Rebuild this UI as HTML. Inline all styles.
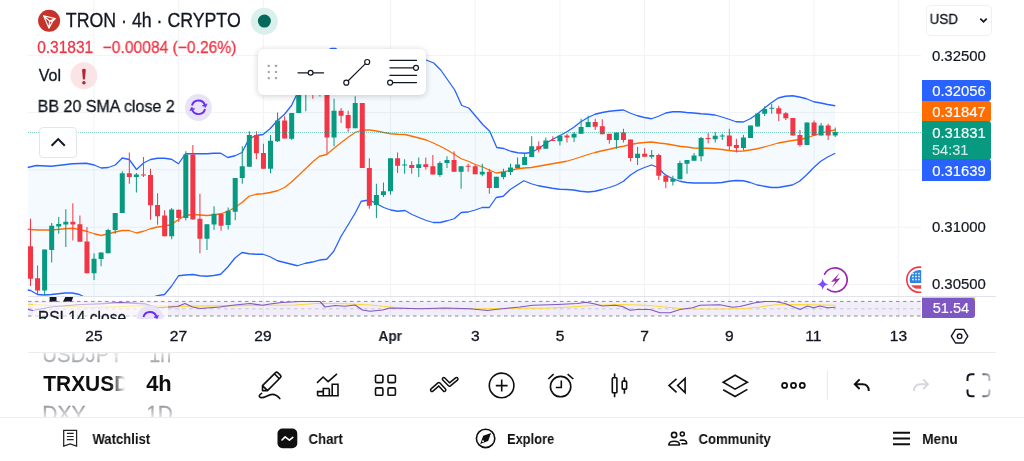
<!DOCTYPE html><html><head><meta charset="utf-8"><title>TRON chart</title><style>
*{box-sizing:border-box;margin:0;padding:0}
html,body{width:1024px;height:461px;overflow:hidden;background:#fff}
body{position:relative;font-family:"Liberation Sans",sans-serif;color:#131722;-webkit-font-smoothing:antialiased}
#cv{position:absolute;left:0;top:0}
.t{position:absolute;white-space:nowrap;line-height:1}
.ab{position:absolute}
.tx text{font-family:"Liberation Sans",sans-serif;white-space:pre}
.tx{opacity:.999;will-change:transform}
</style></head><body>
<svg id="cv" width="1024" height="461" viewBox="0 0 1024 461">
<defs><clipPath id="cm"><rect x="27.5" y="0" width="893.7" height="296"/></clipPath><clipPath id="cr"><rect x="28" y="297" width="893" height="21.5"/></clipPath></defs>
<path d="M94.0 0V318M178.7 0V318M263.4 0V318M390.5 0V318M475.2 0V318M559.9 0V318M644.6 0V318M729.3 0V318M814.0 0V318M898.7 0V318M28 55.4H921M28 112.6H921M28 169.9H921M28 227.2H921M28 284.5H921" stroke="#f1f3f5" stroke-width="1" fill="none"/>
<g clip-path="url(#cm)">
<polygon points="27.50,167.50 36.25,165.50 51.25,166.25 72.50,163.75 86.25,163.25 94.25,165.00 101.25,168.00 108.25,167.50 115.25,165.00 122.25,158.00 129.25,159.50 136.50,169.50 143.50,163.00 150.50,159.50 157.50,158.25 164.50,158.25 171.50,159.25 178.50,163.75 185.50,153.75 192.75,153.75 199.75,153.75 206.75,153.75 213.75,153.25 220.75,153.25 227.75,157.50 235.00,155.75 242.00,152.50 249.00,138.75 256.00,135.50 263.00,134.50 270.00,128.75 277.50,120.50 284.50,114.25 291.50,105.50 296.25,95.50 303.00,84.00 310.00,73.00 317.00,63.00 324.00,54.00 329.00,49.60 331.50,48.40 335.30,48.40 338.00,50.00 345.00,52.00 370.00,52.00 400.00,54.00 420.00,58.00 426.25,60.00 433.75,63.00 440.75,70.00 447.75,80.00 454.75,90.00 461.75,105.50 468.75,108.00 475.75,116.25 482.75,124.50 489.75,131.25 496.75,147.50 503.75,148.50 510.75,151.25 517.75,152.75 525.00,153.25 531.25,152.50 538.25,148.75 545.25,143.75 552.25,139.50 559.50,135.75 566.50,132.00 573.50,127.50 580.50,122.00 588.00,117.50 595.00,114.25 602.25,112.50 609.25,111.25 616.50,110.50 623.50,110.00 630.50,113.25 637.50,115.75 644.50,117.50 651.50,118.75 658.50,116.25 665.75,113.00 672.75,111.75 679.75,111.75 686.75,112.50 693.75,113.00 701.00,113.75 708.00,114.25 715.00,115.00 722.00,117.00 729.00,119.25 736.00,121.75 743.25,122.00 750.25,118.75 757.25,114.00 764.25,108.25 771.25,102.75 778.25,98.00 785.25,96.25 792.50,95.75 799.50,97.00 806.50,98.75 813.75,101.75 820.75,103.00 827.75,104.50 835.25,105.75 835.25,153.25 827.75,157.00 820.75,161.25 813.75,167.50 806.50,175.00 799.50,181.25 792.50,185.00 785.25,186.25 778.25,187.50 771.25,187.50 764.25,186.25 757.25,185.00 750.25,182.50 743.25,180.75 736.00,180.50 729.00,181.25 722.00,182.50 715.00,183.00 708.00,183.00 701.00,183.00 693.75,183.00 686.75,182.50 679.75,181.25 672.75,178.75 665.75,175.00 662.50,172.50 658.50,167.50 651.50,165.00 644.50,167.50 637.50,170.50 630.50,175.00 623.50,181.25 616.50,185.00 609.25,187.50 602.25,189.50 595.00,191.25 588.00,192.00 580.50,191.25 573.50,190.00 566.50,189.50 559.50,189.25 552.25,188.25 545.25,187.00 538.25,185.75 531.25,183.75 523.75,180.75 517.25,185.00 510.25,189.50 503.25,196.25 496.25,197.50 489.25,207.50 482.25,207.50 475.25,210.00 468.25,212.00 461.25,212.50 454.25,218.75 447.25,220.75 440.25,222.50 433.25,222.50 426.25,220.50 419.00,217.50 412.00,214.50 405.00,210.50 397.75,211.25 390.75,210.00 383.75,207.50 376.50,203.75 369.50,200.00 361.25,201.25 355.50,212.50 348.50,224.25 341.25,236.00 333.75,251.25 326.75,259.25 319.50,260.00 312.50,262.00 305.50,263.25 297.50,265.75 291.50,264.25 284.50,262.50 277.50,260.75 270.00,256.75 263.00,254.25 256.00,254.25 249.00,253.75 242.00,252.50 235.00,258.00 227.75,267.00 220.75,274.25 213.75,275.50 206.75,276.25 199.75,275.75 192.75,274.50 185.50,275.00 178.50,275.75 171.50,286.25 164.50,294.50 156.25,296.00 150.00,298.00 120.00,302.00 90.00,299.00 82.50,296.00 79.50,294.50 72.50,293.00 65.25,293.00 58.25,293.75 51.25,294.50 44.50,295.00 37.50,294.50 30.50,290.50 27.50,290.00" fill="#2196f3" fill-opacity="0.05"/>
<polyline points="27.50,229.25 37.50,230.00 51.25,230.00 65.25,228.75 72.50,228.25 79.50,229.50 86.50,231.25 94.25,233.75 101.25,235.50 108.25,233.75 115.25,232.00 122.25,230.50 129.25,230.50 136.50,233.00 143.50,231.25 150.50,228.75 157.50,227.00 164.50,226.25 171.50,224.50 178.50,219.50 185.50,215.50 192.75,214.50 199.75,215.00 206.75,215.50 213.75,215.00 220.75,213.75 227.75,211.25 235.00,207.50 242.00,202.50 249.00,196.25 256.00,194.25 263.00,193.75 270.00,192.50 277.50,190.75 284.50,187.50 291.50,182.00 298.50,175.50 305.50,168.75 312.50,162.00 319.50,156.25 326.75,154.50 333.75,148.50 341.25,142.50 348.50,137.00 355.50,132.25 362.50,130.00 369.50,130.00 376.50,131.00 383.75,132.50 390.75,133.75 397.75,134.25 405.00,134.50 412.00,136.25 419.00,138.00 426.25,140.00 433.25,143.00 440.25,146.25 447.25,150.00 454.25,154.25 461.25,158.75 468.25,161.25 475.25,164.50 482.25,166.75 489.25,170.00 496.25,173.00 503.25,172.00 510.25,170.50 517.25,168.75 524.25,168.00 531.25,167.50 538.25,166.25 545.25,165.00 552.25,163.75 559.50,162.50 566.50,161.25 573.50,159.25 580.50,157.00 588.00,154.50 595.00,152.50 602.25,150.75 609.25,149.25 616.50,147.50 623.50,146.25 630.50,144.50 637.50,143.25 644.50,142.50 651.50,142.00 658.50,143.00 665.75,143.75 672.75,145.00 679.75,146.25 686.75,147.00 693.75,148.00 701.00,148.25 708.00,148.25 715.00,148.75 722.00,149.50 729.00,150.50 736.00,151.25 743.25,151.00 750.00,150.00 757.00,148.75 764.25,147.00 771.25,145.00 778.25,143.00 785.25,141.75 792.50,140.50 799.50,139.50 806.50,138.00 813.75,135.50 820.75,133.25 827.75,131.25 835.25,130.00" fill="none" stroke="#ff6d00" stroke-width="1.3" stroke-linejoin="round"/>
<polyline points="27.50,167.50 36.25,165.50 51.25,166.25 72.50,163.75 86.25,163.25 94.25,165.00 101.25,168.00 108.25,167.50 115.25,165.00 122.25,158.00 129.25,159.50 136.50,169.50 143.50,163.00 150.50,159.50 157.50,158.25 164.50,158.25 171.50,159.25 178.50,163.75 185.50,153.75 192.75,153.75 199.75,153.75 206.75,153.75 213.75,153.25 220.75,153.25 227.75,157.50 235.00,155.75 242.00,152.50 249.00,138.75 256.00,135.50 263.00,134.50 270.00,128.75 277.50,120.50 284.50,114.25 291.50,105.50 296.25,95.50 303.00,84.00 310.00,73.00 317.00,63.00 324.00,54.00 329.00,49.60 331.50,48.40 335.30,48.40 338.00,50.00 345.00,52.00 370.00,52.00 400.00,54.00 420.00,58.00 426.25,60.00 433.75,63.00 440.75,70.00 447.75,80.00 454.75,90.00 461.75,105.50 468.75,108.00 475.75,116.25 482.75,124.50 489.75,131.25 496.75,147.50 503.75,148.50 510.75,151.25 517.75,152.75 525.00,153.25 531.25,152.50 538.25,148.75 545.25,143.75 552.25,139.50 559.50,135.75 566.50,132.00 573.50,127.50 580.50,122.00 588.00,117.50 595.00,114.25 602.25,112.50 609.25,111.25 616.50,110.50 623.50,110.00 630.50,113.25 637.50,115.75 644.50,117.50 651.50,118.75 658.50,116.25 665.75,113.00 672.75,111.75 679.75,111.75 686.75,112.50 693.75,113.00 701.00,113.75 708.00,114.25 715.00,115.00 722.00,117.00 729.00,119.25 736.00,121.75 743.25,122.00 750.25,118.75 757.25,114.00 764.25,108.25 771.25,102.75 778.25,98.00 785.25,96.25 792.50,95.75 799.50,97.00 806.50,98.75 813.75,101.75 820.75,103.00 827.75,104.50 835.25,105.75" fill="none" stroke="#2962ff" stroke-width="1.3" stroke-linejoin="round"/>
<polyline points="27.50,290.00 30.50,290.50 37.50,294.50 44.50,295.00 51.25,294.50 58.25,293.75 65.25,293.00 72.50,293.00 79.50,294.50 82.50,296.00 90.00,299.00 120.00,302.00 150.00,298.00 156.25,296.00 164.50,294.50 171.50,286.25 178.50,275.75 185.50,275.00 192.75,274.50 199.75,275.75 206.75,276.25 213.75,275.50 220.75,274.25 227.75,267.00 235.00,258.00 242.00,252.50 249.00,253.75 256.00,254.25 263.00,254.25 270.00,256.75 277.50,260.75 284.50,262.50 291.50,264.25 297.50,265.75 305.50,263.25 312.50,262.00 319.50,260.00 326.75,259.25 333.75,251.25 341.25,236.00 348.50,224.25 355.50,212.50 361.25,201.25 369.50,200.00 376.50,203.75 383.75,207.50 390.75,210.00 397.75,211.25 405.00,210.50 412.00,214.50 419.00,217.50 426.25,220.50 433.25,222.50 440.25,222.50 447.25,220.75 454.25,218.75 461.25,212.50 468.25,212.00 475.25,210.00 482.25,207.50 489.25,207.50 496.25,197.50 503.25,196.25 510.25,189.50 517.25,185.00 523.75,180.75 531.25,183.75 538.25,185.75 545.25,187.00 552.25,188.25 559.50,189.25 566.50,189.50 573.50,190.00 580.50,191.25 588.00,192.00 595.00,191.25 602.25,189.50 609.25,187.50 616.50,185.00 623.50,181.25 630.50,175.00 637.50,170.50 644.50,167.50 651.50,165.00 658.50,167.50 662.50,172.50 665.75,175.00 672.75,178.75 679.75,181.25 686.75,182.50 693.75,183.00 701.00,183.00 708.00,183.00 715.00,183.00 722.00,182.50 729.00,181.25 736.00,180.50 743.25,180.75 750.25,182.50 757.25,185.00 764.25,186.25 771.25,187.50 778.25,187.50 785.25,186.25 792.50,185.00 799.50,181.25 806.50,175.00 813.75,167.50 820.75,161.25 827.75,157.00 835.25,153.25" fill="none" stroke="#2962ff" stroke-width="1.3" stroke-linejoin="round"/>
<rect x="30.00" y="218.75" width="1" height="67.25" fill="#f23645"/>
<rect x="28.00" y="246.25" width="5" height="32.50" fill="#f23645"/>
<rect x="37.06" y="265.50" width="1" height="29.50" fill="#f23645"/>
<rect x="35.06" y="278.25" width="5" height="12.25" fill="#f23645"/>
<rect x="44.12" y="249.50" width="1" height="45.50" fill="#089981"/>
<rect x="42.12" y="249.50" width="5" height="41.00" fill="#089981"/>
<rect x="51.18" y="223.00" width="1" height="39.50" fill="#089981"/>
<rect x="49.18" y="225.75" width="5" height="24.25" fill="#089981"/>
<rect x="58.24" y="217.00" width="1" height="16.75" fill="#089981"/>
<rect x="56.24" y="224.00" width="5" height="2.50" fill="#089981"/>
<rect x="65.30" y="209.25" width="1" height="37.75" fill="#089981"/>
<rect x="63.30" y="221.75" width="5" height="2.75" fill="#089981"/>
<rect x="72.35" y="203.25" width="1" height="37.25" fill="#f23645"/>
<rect x="70.35" y="221.75" width="5" height="2.75" fill="#f23645"/>
<rect x="79.41" y="215.50" width="1" height="26.25" fill="#f23645"/>
<rect x="77.41" y="224.25" width="5" height="17.50" fill="#f23645"/>
<rect x="86.47" y="227.00" width="1" height="46.25" fill="#f23645"/>
<rect x="84.47" y="241.50" width="5" height="31.75" fill="#f23645"/>
<rect x="93.53" y="253.25" width="1" height="26.75" fill="#089981"/>
<rect x="91.53" y="258.75" width="5" height="14.50" fill="#089981"/>
<rect x="100.59" y="252.50" width="1" height="13.75" fill="#089981"/>
<rect x="98.59" y="252.50" width="5" height="6.50" fill="#089981"/>
<rect x="107.65" y="228.75" width="1" height="24.50" fill="#089981"/>
<rect x="105.65" y="230.00" width="5" height="23.25" fill="#089981"/>
<rect x="114.71" y="213.00" width="1" height="20.75" fill="#089981"/>
<rect x="112.71" y="213.00" width="5" height="17.00" fill="#089981"/>
<rect x="121.77" y="171.25" width="1" height="41.75" fill="#089981"/>
<rect x="119.77" y="173.25" width="5" height="39.75" fill="#089981"/>
<rect x="128.83" y="152.50" width="1" height="31.25" fill="#f23645"/>
<rect x="126.83" y="173.25" width="5" height="3.75" fill="#f23645"/>
<rect x="135.88" y="173.00" width="1" height="19.50" fill="#089981"/>
<rect x="133.88" y="174.50" width="5" height="2.50" fill="#089981"/>
<rect x="142.94" y="157.00" width="1" height="20.00" fill="#f23645"/>
<rect x="140.94" y="174.50" width="5" height="1.00" fill="#f23645"/>
<rect x="150.00" y="168.75" width="1" height="51.00" fill="#f23645"/>
<rect x="148.00" y="175.00" width="5" height="30.25" fill="#f23645"/>
<rect x="157.06" y="193.25" width="1" height="31.50" fill="#f23645"/>
<rect x="155.06" y="205.00" width="5" height="11.25" fill="#f23645"/>
<rect x="164.12" y="210.25" width="1" height="26.00" fill="#f23645"/>
<rect x="162.12" y="215.50" width="5" height="20.75" fill="#f23645"/>
<rect x="171.18" y="208.00" width="1" height="31.25" fill="#089981"/>
<rect x="169.18" y="209.50" width="5" height="26.75" fill="#089981"/>
<rect x="178.24" y="209.50" width="1" height="12.50" fill="#f23645"/>
<rect x="176.24" y="209.75" width="5" height="8.25" fill="#f23645"/>
<rect x="185.30" y="151.25" width="1" height="69.25" fill="#089981"/>
<rect x="183.30" y="154.50" width="5" height="63.50" fill="#089981"/>
<rect x="192.36" y="145.00" width="1" height="74.50" fill="#f23645"/>
<rect x="190.36" y="154.50" width="5" height="65.00" fill="#f23645"/>
<rect x="199.42" y="193.75" width="1" height="59.50" fill="#f23645"/>
<rect x="197.42" y="218.75" width="5" height="20.00" fill="#f23645"/>
<rect x="206.47" y="224.25" width="1" height="25.75" fill="#089981"/>
<rect x="204.47" y="224.25" width="5" height="14.50" fill="#089981"/>
<rect x="213.53" y="206.25" width="1" height="23.75" fill="#089981"/>
<rect x="211.53" y="213.75" width="5" height="10.75" fill="#089981"/>
<rect x="220.59" y="213.75" width="1" height="17.00" fill="#f23645"/>
<rect x="218.59" y="213.75" width="5" height="12.00" fill="#f23645"/>
<rect x="227.65" y="207.50" width="1" height="22.00" fill="#089981"/>
<rect x="225.65" y="210.75" width="5" height="14.25" fill="#089981"/>
<rect x="234.71" y="178.00" width="1" height="42.25" fill="#089981"/>
<rect x="232.71" y="178.00" width="5" height="33.75" fill="#089981"/>
<rect x="241.77" y="146.25" width="1" height="37.50" fill="#089981"/>
<rect x="239.77" y="166.25" width="5" height="11.75" fill="#089981"/>
<rect x="248.83" y="131.25" width="1" height="35.50" fill="#089981"/>
<rect x="246.83" y="135.00" width="5" height="31.75" fill="#089981"/>
<rect x="255.89" y="131.25" width="1" height="28.00" fill="#f23645"/>
<rect x="253.89" y="135.00" width="5" height="18.25" fill="#f23645"/>
<rect x="262.95" y="143.75" width="1" height="25.00" fill="#f23645"/>
<rect x="260.95" y="153.00" width="5" height="15.75" fill="#f23645"/>
<rect x="270.01" y="135.00" width="1" height="38.25" fill="#089981"/>
<rect x="268.01" y="140.75" width="5" height="28.00" fill="#089981"/>
<rect x="277.06" y="112.50" width="1" height="29.50" fill="#089981"/>
<rect x="275.06" y="120.50" width="5" height="20.75" fill="#089981"/>
<rect x="284.12" y="116.25" width="1" height="22.25" fill="#f23645"/>
<rect x="282.12" y="120.50" width="5" height="18.00" fill="#f23645"/>
<rect x="291.18" y="113.00" width="1" height="27.00" fill="#089981"/>
<rect x="289.18" y="113.00" width="5" height="25.75" fill="#089981"/>
<rect x="298.24" y="78.00" width="1" height="35.00" fill="#089981"/>
<rect x="296.24" y="80.00" width="5" height="33.00" fill="#089981"/>
<rect x="305.30" y="70.00" width="1" height="41.25" fill="#089981"/>
<rect x="303.30" y="72.00" width="5" height="8.00" fill="#089981"/>
<rect x="312.36" y="68.00" width="1" height="30.75" fill="#f23645"/>
<rect x="310.36" y="72.00" width="5" height="6.00" fill="#f23645"/>
<rect x="319.42" y="70.00" width="1" height="26.50" fill="#089981"/>
<rect x="317.42" y="74.00" width="5" height="4.00" fill="#089981"/>
<rect x="326.48" y="70.00" width="1" height="83.75" fill="#f23645"/>
<rect x="324.48" y="74.00" width="5" height="63.50" fill="#f23645"/>
<rect x="333.54" y="98.75" width="1" height="47.50" fill="#089981"/>
<rect x="331.54" y="110.75" width="5" height="26.75" fill="#089981"/>
<rect x="340.60" y="108.00" width="1" height="15.00" fill="#f23645"/>
<rect x="338.60" y="110.75" width="5" height="5.00" fill="#f23645"/>
<rect x="347.66" y="110.75" width="1" height="21.00" fill="#f23645"/>
<rect x="345.66" y="115.00" width="5" height="13.25" fill="#f23645"/>
<rect x="354.71" y="96.25" width="1" height="32.00" fill="#089981"/>
<rect x="352.71" y="103.00" width="5" height="25.25" fill="#089981"/>
<rect x="361.77" y="103.00" width="1" height="65.00" fill="#f23645"/>
<rect x="359.77" y="103.00" width="5" height="65.00" fill="#f23645"/>
<rect x="368.83" y="158.25" width="1" height="50.50" fill="#f23645"/>
<rect x="366.83" y="168.00" width="5" height="37.75" fill="#f23645"/>
<rect x="375.89" y="183.75" width="1" height="34.25" fill="#089981"/>
<rect x="373.89" y="195.00" width="5" height="10.00" fill="#089981"/>
<rect x="382.95" y="182.50" width="1" height="14.50" fill="#089981"/>
<rect x="380.95" y="191.25" width="5" height="3.75" fill="#089981"/>
<rect x="390.01" y="158.25" width="1" height="36.25" fill="#089981"/>
<rect x="388.01" y="158.25" width="5" height="33.00" fill="#089981"/>
<rect x="397.07" y="152.50" width="1" height="20.50" fill="#f23645"/>
<rect x="395.07" y="158.25" width="5" height="7.50" fill="#f23645"/>
<rect x="404.13" y="159.25" width="1" height="14.50" fill="#089981"/>
<rect x="402.13" y="164.50" width="5" height="1.00" fill="#089981"/>
<rect x="411.19" y="161.25" width="1" height="12.50" fill="#f23645"/>
<rect x="409.19" y="165.00" width="5" height="3.00" fill="#f23645"/>
<rect x="418.25" y="157.50" width="1" height="19.50" fill="#089981"/>
<rect x="416.25" y="164.25" width="5" height="3.75" fill="#089981"/>
<rect x="425.30" y="157.50" width="1" height="12.00" fill="#f23645"/>
<rect x="423.30" y="164.25" width="5" height="2.75" fill="#f23645"/>
<rect x="432.36" y="155.00" width="1" height="19.50" fill="#f23645"/>
<rect x="430.36" y="166.25" width="5" height="8.25" fill="#f23645"/>
<rect x="439.42" y="161.25" width="1" height="15.50" fill="#089981"/>
<rect x="437.42" y="163.00" width="5" height="12.00" fill="#089981"/>
<rect x="446.48" y="156.25" width="1" height="11.75" fill="#089981"/>
<rect x="444.48" y="160.00" width="5" height="3.00" fill="#089981"/>
<rect x="453.54" y="151.25" width="1" height="20.50" fill="#f23645"/>
<rect x="451.54" y="160.00" width="5" height="11.75" fill="#f23645"/>
<rect x="460.60" y="166.25" width="1" height="22.50" fill="#089981"/>
<rect x="458.60" y="166.25" width="5" height="5.50" fill="#089981"/>
<rect x="467.66" y="163.75" width="1" height="8.00" fill="#f23645"/>
<rect x="465.66" y="165.75" width="5" height="1.00" fill="#f23645"/>
<rect x="474.72" y="164.50" width="1" height="9.75" fill="#f23645"/>
<rect x="472.72" y="166.25" width="5" height="8.00" fill="#f23645"/>
<rect x="481.78" y="163.75" width="1" height="12.50" fill="#089981"/>
<rect x="479.78" y="171.75" width="5" height="2.75" fill="#089981"/>
<rect x="488.84" y="168.75" width="1" height="25.00" fill="#f23645"/>
<rect x="486.84" y="171.75" width="5" height="16.25" fill="#f23645"/>
<rect x="495.89" y="176.75" width="1" height="11.25" fill="#089981"/>
<rect x="493.89" y="176.75" width="5" height="11.25" fill="#089981"/>
<rect x="502.95" y="168.75" width="1" height="10.50" fill="#089981"/>
<rect x="500.95" y="171.75" width="5" height="5.25" fill="#089981"/>
<rect x="510.01" y="163.75" width="1" height="11.25" fill="#089981"/>
<rect x="508.01" y="167.50" width="5" height="4.50" fill="#089981"/>
<rect x="517.07" y="157.50" width="1" height="10.50" fill="#089981"/>
<rect x="515.07" y="164.50" width="5" height="3.50" fill="#089981"/>
<rect x="524.13" y="154.00" width="1" height="11.00" fill="#089981"/>
<rect x="522.13" y="157.00" width="5" height="8.00" fill="#089981"/>
<rect x="531.19" y="136.25" width="1" height="20.75" fill="#089981"/>
<rect x="529.19" y="146.25" width="5" height="10.75" fill="#089981"/>
<rect x="538.25" y="141.25" width="1" height="11.25" fill="#f23645"/>
<rect x="536.25" y="146.25" width="5" height="3.00" fill="#f23645"/>
<rect x="545.31" y="137.50" width="1" height="11.25" fill="#089981"/>
<rect x="543.31" y="140.50" width="5" height="8.25" fill="#089981"/>
<rect x="552.37" y="136.25" width="1" height="4.50" fill="#f23645"/>
<rect x="550.37" y="140.00" width="5" height="1.00" fill="#f23645"/>
<rect x="559.43" y="135.00" width="1" height="10.50" fill="#089981"/>
<rect x="557.43" y="135.75" width="5" height="5.50" fill="#089981"/>
<rect x="566.48" y="133.75" width="1" height="8.75" fill="#f23645"/>
<rect x="564.48" y="135.50" width="5" height="2.00" fill="#f23645"/>
<rect x="573.54" y="132.00" width="1" height="10.00" fill="#089981"/>
<rect x="571.54" y="133.75" width="5" height="3.75" fill="#089981"/>
<rect x="580.60" y="118.75" width="1" height="15.00" fill="#089981"/>
<rect x="578.60" y="127.00" width="5" height="6.75" fill="#089981"/>
<rect x="587.66" y="115.75" width="1" height="11.25" fill="#089981"/>
<rect x="585.66" y="122.00" width="5" height="5.00" fill="#089981"/>
<rect x="594.72" y="118.75" width="1" height="11.25" fill="#f23645"/>
<rect x="592.72" y="122.00" width="5" height="4.75" fill="#f23645"/>
<rect x="601.78" y="119.25" width="1" height="15.00" fill="#f23645"/>
<rect x="599.78" y="126.25" width="5" height="8.00" fill="#f23645"/>
<rect x="608.84" y="133.75" width="1" height="10.00" fill="#f23645"/>
<rect x="606.84" y="133.75" width="5" height="6.25" fill="#f23645"/>
<rect x="615.90" y="132.50" width="1" height="16.25" fill="#089981"/>
<rect x="613.90" y="132.50" width="5" height="7.50" fill="#089981"/>
<rect x="622.96" y="128.75" width="1" height="13.75" fill="#f23645"/>
<rect x="620.96" y="132.50" width="5" height="7.50" fill="#f23645"/>
<rect x="630.01" y="139.50" width="1" height="21.75" fill="#f23645"/>
<rect x="628.01" y="139.50" width="5" height="18.50" fill="#f23645"/>
<rect x="637.07" y="147.00" width="1" height="18.00" fill="#089981"/>
<rect x="635.07" y="153.75" width="5" height="4.25" fill="#089981"/>
<rect x="644.13" y="148.25" width="1" height="8.50" fill="#f23645"/>
<rect x="642.13" y="153.75" width="5" height="3.00" fill="#f23645"/>
<rect x="651.19" y="150.00" width="1" height="8.75" fill="#089981"/>
<rect x="649.19" y="155.00" width="5" height="1.75" fill="#089981"/>
<rect x="658.25" y="153.75" width="1" height="26.25" fill="#f23645"/>
<rect x="656.25" y="155.00" width="5" height="20.75" fill="#f23645"/>
<rect x="665.31" y="175.50" width="1" height="12.75" fill="#f23645"/>
<rect x="663.31" y="175.50" width="5" height="6.25" fill="#f23645"/>
<rect x="672.37" y="175.75" width="1" height="9.75" fill="#089981"/>
<rect x="670.37" y="178.75" width="5" height="3.00" fill="#089981"/>
<rect x="679.43" y="160.75" width="1" height="18.50" fill="#089981"/>
<rect x="677.43" y="163.00" width="5" height="16.25" fill="#089981"/>
<rect x="686.49" y="160.00" width="1" height="13.75" fill="#089981"/>
<rect x="684.49" y="160.00" width="5" height="3.75" fill="#089981"/>
<rect x="693.55" y="153.00" width="1" height="7.75" fill="#089981"/>
<rect x="691.55" y="155.50" width="5" height="5.25" fill="#089981"/>
<rect x="700.61" y="137.00" width="1" height="24.25" fill="#089981"/>
<rect x="698.61" y="138.00" width="5" height="18.25" fill="#089981"/>
<rect x="707.66" y="133.00" width="1" height="10.25" fill="#f23645"/>
<rect x="705.66" y="138.00" width="5" height="1.00" fill="#f23645"/>
<rect x="714.72" y="132.00" width="1" height="10.50" fill="#089981"/>
<rect x="712.72" y="135.75" width="5" height="3.50" fill="#089981"/>
<rect x="721.78" y="133.75" width="1" height="6.25" fill="#089981"/>
<rect x="719.78" y="135.50" width="5" height="1.00" fill="#089981"/>
<rect x="728.84" y="128.75" width="1" height="21.25" fill="#f23645"/>
<rect x="726.84" y="135.50" width="5" height="10.75" fill="#f23645"/>
<rect x="735.90" y="138.75" width="1" height="13.75" fill="#f23645"/>
<rect x="733.90" y="145.00" width="5" height="3.00" fill="#f23645"/>
<rect x="742.96" y="135.00" width="1" height="15.00" fill="#089981"/>
<rect x="740.96" y="137.50" width="5" height="10.50" fill="#089981"/>
<rect x="750.02" y="125.50" width="1" height="12.50" fill="#089981"/>
<rect x="748.02" y="125.50" width="5" height="12.50" fill="#089981"/>
<rect x="757.08" y="113.50" width="1" height="13.00" fill="#089981"/>
<rect x="755.08" y="113.50" width="5" height="13.00" fill="#089981"/>
<rect x="764.14" y="106.25" width="1" height="9.75" fill="#089981"/>
<rect x="762.14" y="109.00" width="5" height="4.75" fill="#089981"/>
<rect x="771.20" y="104.00" width="1" height="9.75" fill="#089981"/>
<rect x="769.20" y="107.75" width="5" height="1.00" fill="#089981"/>
<rect x="778.25" y="105.75" width="1" height="15.50" fill="#f23645"/>
<rect x="776.25" y="108.25" width="5" height="5.50" fill="#f23645"/>
<rect x="785.31" y="112.00" width="1" height="8.00" fill="#f23645"/>
<rect x="783.31" y="113.25" width="5" height="5.00" fill="#f23645"/>
<rect x="792.37" y="118.00" width="1" height="17.50" fill="#f23645"/>
<rect x="790.37" y="118.00" width="5" height="17.50" fill="#f23645"/>
<rect x="799.43" y="130.00" width="1" height="16.75" fill="#f23645"/>
<rect x="797.43" y="135.00" width="5" height="10.00" fill="#f23645"/>
<rect x="806.49" y="122.50" width="1" height="22.50" fill="#089981"/>
<rect x="804.49" y="122.50" width="5" height="22.50" fill="#089981"/>
<rect x="813.55" y="120.50" width="1" height="15.00" fill="#f23645"/>
<rect x="811.55" y="122.50" width="5" height="13.00" fill="#f23645"/>
<rect x="820.61" y="123.00" width="1" height="12.50" fill="#089981"/>
<rect x="818.61" y="125.50" width="5" height="10.00" fill="#089981"/>
<rect x="827.67" y="123.75" width="1" height="16.25" fill="#f23645"/>
<rect x="825.67" y="125.50" width="5" height="10.00" fill="#f23645"/>
<rect x="834.73" y="127.50" width="1" height="9.50" fill="#089981"/>
<rect x="832.73" y="132.00" width="5" height="3.50" fill="#089981"/>
</g>
<path d="M28 132.5H921" stroke="#089981" stroke-width="1" stroke-dasharray="1 1" opacity="0.5"/>
<path d="M28 296.5H996" stroke="#e0e3eb" stroke-width="1"/>
<g clip-path="url(#cr)">
<rect x="28" y="301.4" width="893" height="14.6" fill="#7e57c2" fill-opacity="0.1"/>
<path d="M28 301.4H921" stroke="#8a8d96" stroke-width="1" stroke-dasharray="3.5 3.5"/>
<path d="M28 308.8H921" stroke="#787b86" stroke-opacity="0.35" stroke-width="1" stroke-dasharray="3.5 3.5"/>
<path d="M28 316H921" stroke="#8a8d96" stroke-width="1" stroke-dasharray="3.5 3.5"/>
<polyline points="27.50,304.20 51.00,305.50 95.00,307.50 120.00,306.60 145.00,305.60 170.00,306.40 270.00,305.25 295.00,305.00 320.00,303.25 345.00,303.75 370.00,305.00 395.00,307.50 420.00,308.75 470.00,309.00 525.00,308.00 545.00,308.25 570.00,307.00 595.00,305.25 620.00,304.50 645.00,305.25 660.00,306.50 680.00,308.50 695.00,309.00 720.00,309.00 745.00,308.50 760.00,307.00 775.00,304.75 800.00,304.50 835.50,305.25" fill="none" stroke="#fdd835" stroke-width="1.2" stroke-linejoin="round"/>
<polyline points="27.50,309.20 32.50,310.50 51.00,307.00 80.00,304.50 100.00,303.80 120.00,302.70 145.00,303.80 157.50,307.75 170.00,307.00 177.50,306.50 185.00,303.50 192.50,307.00 200.00,308.50 220.00,307.00 232.50,305.25 250.00,303.50 262.50,305.25 270.00,304.00 282.00,302.50 300.00,301.50 320.00,301.50 325.00,307.00 335.00,305.50 345.00,306.25 355.00,305.00 362.50,310.00 370.00,311.25 382.50,310.00 390.00,308.00 420.00,308.75 445.00,308.00 470.00,308.75 487.50,310.50 495.00,309.50 510.00,308.00 520.00,307.00 532.50,305.25 557.50,304.50 577.50,303.50 586.00,302.25 595.00,304.00 602.50,306.00 615.00,305.25 622.50,306.50 630.00,310.25 637.50,309.50 650.00,309.50 660.00,312.75 670.00,312.75 680.00,309.50 692.50,307.75 700.00,305.25 720.00,304.75 732.50,307.25 740.00,306.50 755.00,302.75 765.00,301.50 775.00,301.50 785.00,303.50 792.50,306.50 800.00,309.50 807.50,306.00 813.75,307.75 820.00,306.00 827.50,307.75 835.50,307.25" fill="none" stroke="#7e57c2" stroke-width="1.2" stroke-linejoin="round"/>
</g>
<path d="M28 352.5H996" stroke="#ebecee" stroke-width="1"/>
<path d="M0 417.5H1024" stroke="#ebecef" stroke-width="1"/>
</svg>
<svg class="ab tx" style="left:0;top:0;overflow:visible" width="1" height="1"><text transform="translate(65.84 27.00) scale(0.9061 1)" font-size="19.6" font-weight="400" fill="#131722" stroke="#131722" stroke-width="0.3" >TRON · 4h · CRYPTO</text></svg>
<svg class="ab tx" style="left:0;top:0;overflow:visible" width="1" height="1"><text transform="translate(37.15 53.00) scale(0.9179 1)" font-size="16.9" font-weight="400" fill="#f23645" stroke="#f23645" stroke-width="0.3" >0.31831</text></svg>
<svg class="ab tx" style="left:0;top:0;overflow:visible" width="1" height="1"><text transform="translate(102.71 53.00) scale(0.9244 1)" font-size="16.9" font-weight="400" fill="#f23645" stroke="#f23645" stroke-width="0.3" >−0.00084 (−0.26%)</text></svg>
<svg class="ab tx" style="left:0;top:0;overflow:visible" width="1" height="1"><text transform="translate(38.80 81.00) scale(0.9591 1)" font-size="16.7" font-weight="400" fill="#131722" stroke="#131722" stroke-width="0.3" >Vol</text></svg>
<svg class="ab tx" style="left:0;top:0;overflow:visible" width="1" height="1"><text transform="translate(37.61 112.00) scale(0.9548 1)" font-size="16.8" font-weight="400" fill="#131722" stroke="#131722" stroke-width="0.3" >BB 20 SMA close 2</text></svg>
<div class="ab" style="left:39.4px;top:127.4px;width:37.3px;height:30.3px;background:rgba(255,255,255,.92);border:1px solid #e4e5e9;border-radius:4px"></div>
<div class="ab" style="left:258px;top:49px;width:168px;height:46px;background:#fff;border-radius:6px;box-shadow:0 1px 6px rgba(0,0,0,.2)"></div>
<div class="ab" style="left:926px;top:5px;width:65.5px;height:31px;background:#fff;border:1px solid #eff0f3;border-radius:5px"></div>
<svg class="ab tx" style="left:0;top:0;overflow:visible" width="1" height="1"><text transform="translate(929.56 24.00) scale(0.9487 1)" font-size="14.2" font-weight="400" fill="#131722" stroke="#131722" stroke-width="0.3" >USD</text></svg>
<svg class="ab tx" style="left:0;top:0;overflow:visible" width="1" height="1"><text transform="translate(931.93 61.00) scale(1.0292 1)" font-size="14.5" font-weight="400" fill="#131722" stroke="#131722" stroke-width="0.2" >0.32500</text></svg>
<svg class="ab tx" style="left:0;top:0;overflow:visible" width="1" height="1"><text transform="translate(931.93 232.00) scale(1.0292 1)" font-size="14.5" font-weight="400" fill="#131722" stroke="#131722" stroke-width="0.2" >0.31000</text></svg>
<svg class="ab tx" style="left:0;top:0;overflow:visible" width="1" height="1"><text transform="translate(931.93 289.00) scale(1.0292 1)" font-size="14.5" font-weight="400" fill="#131722" stroke="#131722" stroke-width="0.2" >0.30500</text></svg>
<div class="ab" style="left:922px;top:80.1px;width:69.2px;height:20.80px;background:#2962ff;border-radius:0 3px 3px 0"></div>
<div class="ab" style="left:922px;top:100.7px;width:69.2px;height:20.90px;background:#ff6d00;border-radius:0 3px 3px 0"></div>
<div class="ab" style="left:922px;top:121.4px;width:69.2px;height:38.20px;background:#089981;border-radius:0 3px 3px 0"></div>
<div class="ab" style="left:922px;top:159.4px;width:69.2px;height:21.20px;background:#2962ff;border-radius:0 3px 3px 0"></div>
<svg class="ab tx" style="left:0;top:0;overflow:visible" width="1" height="1"><text transform="translate(932.24 96.00) scale(1.0224 1)" font-size="14.5" font-weight="400" fill="#fff" stroke="#fff" stroke-width="0.15" >0.32056</text></svg>
<svg class="ab tx" style="left:0;top:0;overflow:visible" width="1" height="1"><text transform="translate(932.24 117.00) scale(1.0244 1)" font-size="14.5" font-weight="400" fill="#fff" stroke="#fff" stroke-width="0.15" >0.31847</text></svg>
<svg class="ab tx" style="left:0;top:0;overflow:visible" width="1" height="1"><text transform="translate(932.24 138.00) scale(1.0244 1)" font-size="14.5" font-weight="400" fill="#fff" stroke="#fff" stroke-width="0.15" >0.31831</text></svg>
<svg class="ab tx" style="left:0;top:0;overflow:visible" width="1" height="1"><text transform="translate(932.00 155.40) scale(1.0043 1)" font-size="14.5" font-weight="400" fill="rgba(255,255,255,.8)" stroke="rgba(255,255,255,.8)" stroke-width="0.1" >54:31</text></svg>
<svg class="ab tx" style="left:0;top:0;overflow:visible" width="1" height="1"><text transform="translate(932.24 176.00) scale(1.0234 1)" font-size="14.5" font-weight="400" fill="#fff" stroke="#fff" stroke-width="0.15" >0.31639</text></svg>
<div class="ab" style="left:922px;top:297px;width:53px;height:1.5px;background:#fdd835"></div>
<div class="ab" style="left:922px;top:297.8px;width:53px;height:20.2px;background:#7e57c2;border-radius:0 3px 3px 0"></div>
<svg class="ab tx" style="left:0;top:0;overflow:visible" width="1" height="1"><text transform="translate(932.65 313.00) scale(1.0071 1)" font-size="14.5" font-weight="400" fill="#fff" stroke="#fff" stroke-width="0.15" >51.54</text></svg>
<div class="ab" style="left:32.5px;top:297px;width:135px;height:21.5px;overflow:hidden"><div class="ab" style="left:0;top:5.6px;width:135px;height:30px;background:rgba(255,255,255,.55)"></div><svg class="ab tx" style="left:0;top:0;overflow:visible" width="1" height="1"><text transform="translate(5.00 26.00) scale(0.9259 1)" font-size="16.8" font-weight="400" fill="#131722" stroke="#131722" stroke-width="0.3" >RSI 14 close</text></svg><svg class="ab" style="left:0;top:0;overflow:visible" width="135" height="40"><circle cx="117.0" cy="22" r="13.5" fill="#e9e3f8"/><path d="M110.43 20.04A6.8 6.8 0 0 1 123.39 19.47" stroke="#6a2cf5" stroke-width="1.9" fill="none" stroke-linecap="butt"/><path d="M124.18 21.64L125.64 18.34L120.94 20.05Z" fill="#6a2cf5" stroke="#6a2cf5" stroke-width=".5" stroke-linejoin="round"/><path d="M123.57 23.56A6.8 6.8 0 0 1 110.61 24.13" stroke="#6a2cf5" stroke-width="1.9" fill="none" stroke-linecap="butt"/><path d="M109.82 21.96L108.36 25.26L113.06 23.55Z" fill="#6a2cf5" stroke="#6a2cf5" stroke-width=".5" stroke-linejoin="round"/></svg></div>
<svg class="ab tx" style="left:0;top:0;overflow:visible" width="1" height="1"><text transform="translate(85.30 341.00) scale(1.0743 1)" font-size="14.5" font-weight="400" fill="#131722" stroke="#131722" stroke-width="0.3" >25</text></svg>
<svg class="ab tx" style="left:0;top:0;overflow:visible" width="1" height="1"><text transform="translate(169.85 341.00) scale(1.0743 1)" font-size="14.5" font-weight="400" fill="#131722" stroke="#131722" stroke-width="0.3" >27</text></svg>
<svg class="ab tx" style="left:0;top:0;overflow:visible" width="1" height="1"><text transform="translate(254.32 341.00) scale(1.0743 1)" font-size="14.5" font-weight="400" fill="#131722" stroke="#131722" stroke-width="0.3" >29</text></svg>
<svg class="ab tx" style="left:0;top:0;overflow:visible" width="1" height="1"><text transform="translate(470.90 341.00) scale(1.0743 1)" font-size="14.5" font-weight="400" fill="#131722" stroke="#131722" stroke-width="0.3" >3</text></svg>
<svg class="ab tx" style="left:0;top:0;overflow:visible" width="1" height="1"><text transform="translate(555.68 341.00) scale(1.0743 1)" font-size="14.5" font-weight="400" fill="#131722" stroke="#131722" stroke-width="0.3" >5</text></svg>
<svg class="ab tx" style="left:0;top:0;overflow:visible" width="1" height="1"><text transform="translate(640.15 341.00) scale(1.0743 1)" font-size="14.5" font-weight="400" fill="#131722" stroke="#131722" stroke-width="0.3" >7</text></svg>
<svg class="ab tx" style="left:0;top:0;overflow:visible" width="1" height="1"><text transform="translate(724.98 341.00) scale(1.0743 1)" font-size="14.5" font-weight="400" fill="#131722" stroke="#131722" stroke-width="0.3" >9</text></svg>
<svg class="ab tx" style="left:0;top:0;overflow:visible" width="1" height="1"><text transform="translate(805.20 341.00) scale(1.0743 1)" font-size="14.5" font-weight="400" fill="#131722" stroke="#131722" stroke-width="0.3" >11</text></svg>
<svg class="ab tx" style="left:0;top:0;overflow:visible" width="1" height="1"><text transform="translate(889.78 341.00) scale(1.0743 1)" font-size="14.5" font-weight="400" fill="#131722" stroke="#131722" stroke-width="0.3" >13</text></svg>
<svg class="ab tx" style="left:0;top:0;overflow:visible" width="1" height="1"><text transform="translate(378.42 341.00) scale(0.9468 1)" font-size="14.5" font-weight="700" fill="#131722" stroke="#131722" stroke-width="0" >Apr</text></svg>
<div class="ab" style="left:28px;top:353px;width:200px;height:64px;overflow:hidden"><svg class="ab tx" style="left:0;top:0;overflow:visible" width="1" height="1"><text transform="translate(14.22 9.00) scale(0.9038 1)" font-size="22.7" font-weight="400" fill="#85878e" stroke="#85878e" stroke-width="0.3" >USDJPY</text></svg><svg class="ab tx" style="left:0;top:0;overflow:visible" width="1" height="1"><text transform="translate(121.32 9.00) scale(0.8688 1)" font-size="22.7" font-weight="400" fill="#85878e" stroke="#85878e" stroke-width="0.3" >1h</text></svg><svg class="ab tx" style="left:0;top:0;overflow:visible" width="1" height="1"><text transform="translate(15.27 38.00) scale(0.9219 1)" font-size="22.7" font-weight="700" fill="#0f0f0f" stroke="#0f0f0f" stroke-width="0" >TRXUSD</text></svg><svg class="ab tx" style="left:0;top:0;overflow:visible" width="1" height="1"><text transform="translate(118.16 38.00) scale(0.9657 1)" font-size="22.7" font-weight="700" fill="#0f0f0f" stroke="#0f0f0f" stroke-width="0" >4h</text></svg><svg class="ab tx" style="left:0;top:0;overflow:visible" width="1" height="1"><text transform="translate(14.28 68.00) scale(0.9290 1)" font-size="22.7" font-weight="400" fill="#85878e" stroke="#85878e" stroke-width="0.3" >DXY</text></svg><svg class="ab tx" style="left:0;top:0;overflow:visible" width="1" height="1"><text transform="translate(118.13 68.00) scale(0.9257 1)" font-size="22.7" font-weight="400" fill="#85878e" stroke="#85878e" stroke-width="0.3" >1D</text></svg><div class="ab" style="left:82px;top:0;width:22px;height:64px;background:linear-gradient(90deg,rgba(255,255,255,0),#fff 70%)"></div><div class="ab" style="left:0;top:0;width:200px;height:14px;background:linear-gradient(180deg,rgba(255,255,255,.75),rgba(255,255,255,0))"></div><div class="ab" style="left:0;top:50px;width:200px;height:14px;background:linear-gradient(0deg,rgba(255,255,255,.75),rgba(255,255,255,0))"></div></div>
<svg class="ab tx" style="left:0;top:0;overflow:visible" width="1" height="1"><text transform="translate(92.50 444.00) scale(0.9215 1)" font-size="14.2" font-weight="700" fill="#0f0f0f" stroke="#0f0f0f" stroke-width="0" >Watchlist</text></svg>
<svg class="ab tx" style="left:0;top:0;overflow:visible" width="1" height="1"><text transform="translate(308.54 444.00) scale(0.9270 1)" font-size="14.2" font-weight="700" fill="#0f0f0f" stroke="#0f0f0f" stroke-width="0" >Chart</text></svg>
<svg class="ab tx" style="left:0;top:0;overflow:visible" width="1" height="1"><text transform="translate(507.04 444.00) scale(0.9052 1)" font-size="14.2" font-weight="700" fill="#0f0f0f" stroke="#0f0f0f" stroke-width="0" >Explore</text></svg>
<svg class="ab tx" style="left:0;top:0;overflow:visible" width="1" height="1"><text transform="translate(698.55 444.00) scale(0.9238 1)" font-size="14.2" font-weight="700" fill="#0f0f0f" stroke="#0f0f0f" stroke-width="0" >Community</text></svg>
<svg class="ab tx" style="left:0;top:0;overflow:visible" width="1" height="1"><text transform="translate(922.19 444.00) scale(0.9602 1)" font-size="14.2" font-weight="700" fill="#0f0f0f" stroke="#0f0f0f" stroke-width="0" >Menu</text></svg>
<svg id="ic" class="ab" style="left:0;top:0" width="1024" height="461" viewBox="0 0 1024 461" fill="none" stroke-linecap="round" stroke-linejoin="round">
<circle cx="49.1" cy="20.7" r="11" fill="#c4342b"/>
<path d="M43.6 15.7L55.3 18.6 52.6 21.4 48.9 28.1ZM43.6 15.7L49.6 21 48.9 28.1M49.6 21L55.3 18.6M49.6 21L52.6 21.4" stroke="#fff" stroke-width="1.15"/>
<circle cx="264.3" cy="21.2" r="13.5" fill="#daf0ec"/><circle cx="264.4" cy="21.1" r="6.5" fill="#06695a"/>
<circle cx="83.9" cy="75.7" r="13.5" fill="#fbe4e6"/>
<path d="M82 69.4Q83.9 68 85.8 69.4L84.9 79.2Q83.9 79.9 82.9 79.2Z" fill="#b22833"/><circle cx="83.9" cy="82.7" r="1.75" fill="#b22833"/>
<circle cx="198.4" cy="107.5" r="13.5" fill="#e9e3f8"/>
<path d="M191.93 105.54A6.8 6.8 0 0 1 204.89 104.97" stroke="#6a2cf5" stroke-width="1.9" fill="none" stroke-linecap="butt"/><path d="M205.68 107.14L207.14 103.84L202.44 105.55Z" fill="#6a2cf5" stroke="#6a2cf5" stroke-width=".5" stroke-linejoin="round"/><path d="M205.07 109.06A6.8 6.8 0 0 1 192.11 109.63" stroke="#6a2cf5" stroke-width="1.9" fill="none" stroke-linecap="butt"/><path d="M191.32 107.46L189.86 110.76L194.56 109.05Z" fill="#6a2cf5" stroke="#6a2cf5" stroke-width=".5" stroke-linejoin="round"/>
<path d="M51.6 145.7L58.2 139.1 64.8 145.7" stroke="#131722" stroke-width="2" stroke-linecap="butt" stroke-linejoin="miter"/>
<rect x="267.7" y="64.80000000000001" width="2.2" height="2.2" rx=".4" fill="#a6a6ab"/>
<rect x="267.7" y="70.9" width="2.2" height="2.2" rx=".4" fill="#a6a6ab"/>
<rect x="267.7" y="77.0" width="2.2" height="2.2" rx=".4" fill="#a6a6ab"/>
<rect x="274.9" y="64.80000000000001" width="2.2" height="2.2" rx=".4" fill="#a6a6ab"/>
<rect x="274.9" y="70.9" width="2.2" height="2.2" rx=".4" fill="#a6a6ab"/>
<rect x="274.9" y="77.0" width="2.2" height="2.2" rx=".4" fill="#a6a6ab"/>
<path d="M298 72.8H308M313.3 72.8H323.6" stroke="#131722" stroke-width="1.2"/><circle cx="310.6" cy="72.8" r="2.4" stroke="#131722" stroke-width="1.2" fill="#fff"/>
<path d="M348.2 80.8L365.3 63.9" stroke="#131722" stroke-width="1.2"/><circle cx="346.3" cy="82.7" r="2.5" stroke="#131722" stroke-width="1.2" fill="#fff"/><circle cx="367.2" cy="62" r="2.5" stroke="#131722" stroke-width="1.2" fill="#fff"/>
<path d="M390 60.4H416.5M390 67.8H413.4M390 75.4H416.5M392.7 82.6H416.5" stroke="#131722" stroke-width="1.3"/><circle cx="416" cy="67.8" r="2.5" stroke="#131722" stroke-width="1.2" fill="#fff"/><circle cx="390.1" cy="82.6" r="2.5" stroke="#131722" stroke-width="1.2" fill="#fff"/>
<path d="M980.3 18.6L983.5 21.8 986.7 18.6" stroke="#131722" stroke-width="1.7" stroke-linecap="butt" stroke-linejoin="miter"/>
<path d="M824.6 274.2A12 12 0 1 1 827.6 289.2" stroke="#9c27b0" stroke-width="1.7"/>
<path d="M839.6 272.8L831 281.9 835.6 281.2 832 287.4 840.4 278.2 835.9 278.9Z" fill="#9c27b0"/>
<path d="M822.7 278.4Q823.5 283.4 828.4 284.2Q823.5 285 822.7 290Q821.9 285 817 284.2Q821.9 283.4 822.7 278.4Z" fill="#7c4dff"/>
<clipPath id="cf"><rect x="900" y="260" width="21.2" height="40"/></clipPath><g clip-path="url(#cf)">
<circle cx="919.4" cy="279.7" r="12.6" stroke="#f23645" stroke-width="1.6" fill="#fff"/>
<clipPath id="cf2"><circle cx="919.4" cy="279.7" r="9.8"/></clipPath><g clip-path="url(#cf2)"><rect x="905" y="268" width="20" height="15" fill="#2f84e0"/><rect x="905" y="285.3" width="20" height="3.4" fill="#e8484d"/>
<rect x="912.2" y="272.8" width="1.5" height="1.5" fill="#fff"/>
<rect x="912.2" y="275.8" width="1.5" height="1.5" fill="#fff"/>
<rect x="912.2" y="278.8" width="1.5" height="1.5" fill="#fff"/>
<rect x="915.2" y="272.8" width="1.5" height="1.5" fill="#fff"/>
<rect x="915.2" y="275.8" width="1.5" height="1.5" fill="#fff"/>
<rect x="915.2" y="278.8" width="1.5" height="1.5" fill="#fff"/>
<rect x="918.2" y="272.8" width="1.5" height="1.5" fill="#fff"/>
<rect x="918.2" y="275.8" width="1.5" height="1.5" fill="#fff"/>
<rect x="918.2" y="278.8" width="1.5" height="1.5" fill="#fff"/>
</g></g>
<path d="M49.6 297h6.9v4.4h-6.9zM65.3 297h7.9l-1.6 4.4h-8.5z" fill="#131722"/>
<path d="M955.5 329.4H963.7L967.8 336.2 963.7 343H955.5L951.3 336.2Z" stroke="#131722" stroke-width="1.4"/><circle cx="959.6" cy="336.3" r="2.3" stroke="#131722" stroke-width="1.4"/>
<path d="M262.5 390.6V385.6L275.58 372.56Q276.64 371.5 277.7 372.56L280.52 375.41Q281.58 376.47 280.52 377.53L267.5 390.6ZM262.5 385.6L267.5 390.6M274.38 373.78L279.32 378.72" stroke="#0f0f0f" stroke-width="1.6"/>
<path d="M261.6 393.4Q257.6 396.2 260.4 397.5C264.3 398.7 267.8 394.4 272.3 394.4C276.3 394.4 278.2 396.5 279.8 398.6" stroke="#0f0f0f" stroke-width="1.6"/>
<path d="M317 382.8L323.1 377 328.1 381.6 337 373.8" stroke="#0f0f0f" stroke-width="1.6" stroke-linecap="butt" stroke-linejoin="miter"/>
<path d="M317.6 395.7V391.6H323.3V388.5H329.3M323.3 391.6V395.7M329.3 395.7V388.5M332.2 395.7V384.2H338V395.7ZM317.6 395.7H338" stroke="#0f0f0f" stroke-width="1.6" stroke-linecap="butt" stroke-linejoin="miter"/>
<rect x="375.5" y="375.2" width="7.4" height="7.4" rx="1.4" stroke="#0f0f0f" stroke-width="1.6"/>
<rect x="375.5" y="387.9" width="7.4" height="7.4" rx="1.4" stroke="#0f0f0f" stroke-width="1.6"/>
<rect x="388" y="375.2" width="7.4" height="7.4" rx="1.4" stroke="#0f0f0f" stroke-width="1.6"/>
<rect x="388" y="387.9" width="7.4" height="7.4" rx="1.4" stroke="#0f0f0f" stroke-width="1.6"/>
<path d="M432 390L438.9 384 444.4 390" stroke="#0f0f0f" stroke-width="4.4"/><path d="M432 390L438.9 384 444.4 390" stroke="#fff" stroke-width="1.4"/>
<path d="M443.8 379L449.5 384.7 456.5 379" stroke="#0f0f0f" stroke-width="4.4"/><path d="M443.8 379L449.5 384.7 456.5 379" stroke="#fff" stroke-width="1.4"/>
<circle cx="501.6" cy="385.4" r="12.3" stroke="#0f0f0f" stroke-width="1.6"/><path d="M495.8 385.6H507.6M501.7 379.6V391.5" stroke="#0f0f0f" stroke-width="1.6" stroke-linecap="butt"/>
<circle cx="560.6" cy="386.6" r="10.2" stroke="#0f0f0f" stroke-width="1.6"/><path d="M561.3 380.6V387.5H555.8M548.3 379L553.6 374.2M567.6 374.2L573.3 379" stroke="#0f0f0f" stroke-width="1.6" stroke-linecap="butt" stroke-linejoin="miter"/>
<rect x="612.3" y="377.7" width="4.6" height="15" rx=".8" stroke="#0f0f0f" stroke-width="1.6"/><path d="M614.6 373.4V377.7M614.6 392.7V397.2" stroke="#0f0f0f" stroke-width="1.6" stroke-linecap="butt"/>
<rect x="622.2" y="381.1" width="4.4" height="8" rx=".8" stroke="#0f0f0f" stroke-width="1.6"/><path d="M624.4 377.2V381.1M624.4 389.1V393.7" stroke="#0f0f0f" stroke-width="1.6" stroke-linecap="butt"/>
<path d="M676.5 378.8L669 385.4 676.5 392.3" stroke="#0f0f0f" stroke-width="1.6" stroke-linecap="butt" stroke-linejoin="miter"/><path d="M685.1 378.3V392.6L677.6 385.4Z" stroke="#0f0f0f" stroke-width="1.6" stroke-linejoin="miter"/>
<path d="M723.2 382.2L735.1 375.2 747.4 382.2 735.1 389.2ZM723.2 389.7L735.1 396.5 747.4 389.4" stroke="#0f0f0f" stroke-width="1.6" stroke-linecap="butt" stroke-linejoin="miter"/>
<circle cx="784.6" cy="385.4" r="2.5" stroke="#0f0f0f" stroke-width="1.8"/>
<circle cx="793.5" cy="385.4" r="2.5" stroke="#0f0f0f" stroke-width="1.8"/>
<circle cx="802.3" cy="385.4" r="2.5" stroke="#0f0f0f" stroke-width="1.8"/>
<path d="M827.4 370.5V399" stroke="#e6e8ee" stroke-width="1"/>
<path d="M859.6 379.4L854.8 384.3 859.6 389M855.4 384.3H862.5Q868.6 384.3 868.8 391" stroke="#0f0f0f" stroke-width="1.9" stroke-linecap="butt" stroke-linejoin="miter"/>
<path d="M923.2 379.4L928 384.3 923.2 389M927.4 384.3H920.3Q914.2 384.3 914 391" stroke="#d6d8de" stroke-width="1.9" stroke-linecap="butt" stroke-linejoin="miter"/>
<linearGradient id="fg" x1="966" x2="991" y1="0" y2="0" gradientUnits="userSpaceOnUse"><stop offset=".45" stop-color="#131722"/><stop offset="1" stop-color="#c8cad0"/></linearGradient>
<path d="M967.5 381V378.3Q967.5 374.3 971.5 374.3H974.5M982.5 374.3H985.5Q989.5 374.3 989.5 378.3V381M989.5 389.5V392.3Q989.5 396.3 985.5 396.3H982.5M974.5 396.3H971.5Q967.5 396.3 967.5 392.3V389.5" stroke="url(#fg)" stroke-width="2" stroke-linecap="butt"/>
<path d="M63.7 430.4H76.6V446.1L70.2 443.9 63.7 446.1Z" stroke="#222" stroke-width="1.25" stroke-linejoin="miter"/><path d="M66.9 433.4H73.7M66.9 436.5H73.7M66.9 439.6H73.7" stroke="#222" stroke-width="1.2" stroke-linecap="butt"/>
<rect x="277.5" y="428.5" width="19.8" height="19.7" rx="5" fill="#0f0f0f"/><path d="M282 440L285.1 436.9 289.4 440.2 292.8 437.4" stroke="#fff" stroke-width="1.6"/>
<circle cx="485.6" cy="438.4" r="9.2" stroke="#0f0f0f" stroke-width="1.6"/><path d="M491.1 432.9L488.1 441.1 480.2 444 483.2 435.8Z" fill="#0f0f0f"/><circle cx="483" cy="441.2" r=".95" fill="#fff"/>
<circle cx="674.1" cy="435" r="2.6" stroke="#0f0f0f" stroke-width="1.6"/><path d="M668.9 445V444.4Q669.2 441.3 674.2 441.3Q679.3 441.3 679.5 444.4V445Z" stroke="#0f0f0f" stroke-width="1.6"/>
<circle cx="682.3" cy="434" r="2" stroke="#0f0f0f" stroke-width="1.6"/><path d="M680.3 440.3Q681.2 440 682.5 440Q686.4 440.1 686.6 443V443.7H682" stroke="#0f0f0f" stroke-width="1.6"/>
<path d="M893 432.8H910M893 438.5H910M893 444.2H910" stroke="#0f0f0f" stroke-width="2.1" stroke-linecap="butt"/>
</svg>
</body></html>
